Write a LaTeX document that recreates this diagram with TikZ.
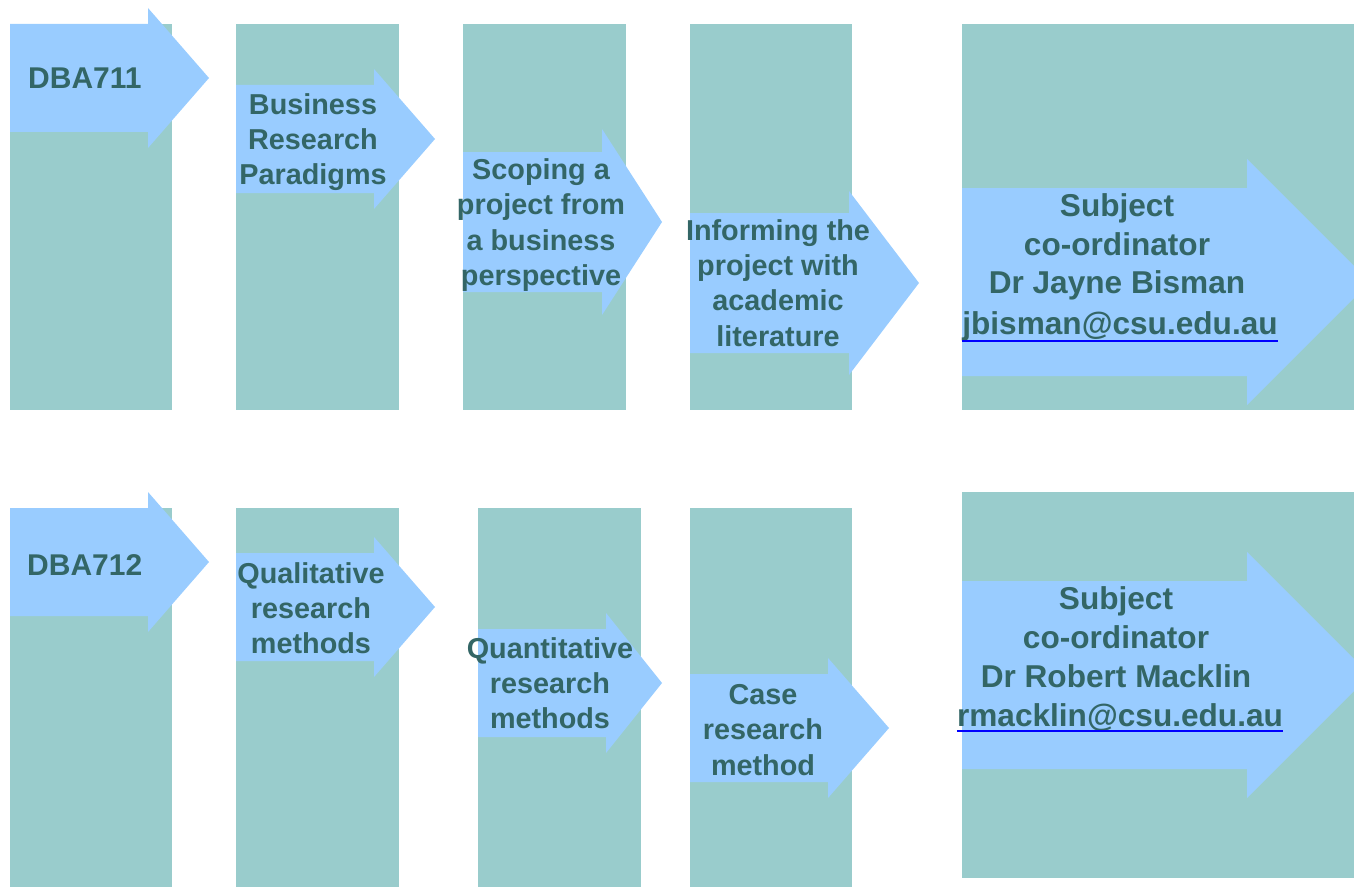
\documentclass[tikz,border=0pt]{standalone}
\usepackage{fontspec}
\setmainfont{Liberation Sans}
\definecolor{colfill}{HTML}{99CCCC}
\definecolor{arrowfill}{HTML}{99CCFF}
\definecolor{stagetext}{HTML}{336666}
\definecolor{linkblue}{HTML}{0000FF}
\tikzset{
    column/.style = {fill=colfill},
    stage arrow/.style = {fill=arrowfill},
}
\tikzset{
    stage/.style = {text=stagetext, align=center, inner sep=0pt, font=\bfseries\fontsize{28.8}{35.3}\selectfont},
    subject/.style = {stage, font=\bfseries\fontsize{30}{36}\selectfont},
    coordinator/.style = {stage, font=\bfseries\fontsize{31.6}{38.8}\selectfont},
    mail line/.style = {draw=linkblue, line width=2.5pt},
}
% x, centre y, half body, head x, half head, tip x
\newcommand{\stagearrow}[6]{%
    \path[stage arrow] (#1,{#2-#3}) -- (#4,{#2-#3}) -- (#4,{#2-#5}) -- (#6,#2)
        -- (#4,{#2+#5}) -- (#4,{#2+#3}) -- (#1,{#2+#3}) -- cycle;}

\begin{document}
\begin{tikzpicture}[x=1pt, y=-1pt]
    \path[use as bounding box] (0,0) rectangle (1354,888);
    \clip (0,0) rectangle (1354,888);

    \path[column] (10,24) rectangle (172,410);
    \path[column] (236,24) rectangle (399,410);
    \path[column] (463,24) rectangle (626,410);
    \path[column] (690,24) rectangle (852,410);
    \path[column] (962,24) rectangle (1354,410);

    \stagearrow{10}{78}{54}{148}{70}{209}
    \stagearrow{236}{139}{54}{374}{70}{435}
    \stagearrow{463}{222}{70}{602}{93}{662}
    \stagearrow{690}{283}{70}{849}{92}{919}
    \stagearrow{962}{282}{94}{1247}{123}{1370}

    \node[subject, anchor=base west] (dba711) at (28,89) {DBA711};
    \node[stage] (paradigms) at (313,142) {Business\\Research\\Paradigms};
    \node[stage] (scoping) at (541,225) {Scoping a\\project from\\a business\\perspective};
    \node[stage] (informing) at (778,283) {Informing the\\project with\\academic\\literature};
    \node[coordinator] (bisman) at (1117,247) {Subject\\co-ordinator\\Dr Jayne Bisman};
    \node[coordinator, anchor=base] (bismanmail) at (1120,334) {jbisman@csu.edu.au};
    \draw[mail line] (bismanmail.south west) -- (bismanmail.south east);

    \path[column] (10,508) rectangle (172,887);
    \path[column] (236,508) rectangle (399,887);
    \path[column] (478,508) rectangle (641,887);
    \path[column] (690,508) rectangle (852,887);
    \path[column] (962,492) rectangle (1354,878);

    \stagearrow{10}{562}{54}{148}{70}{209}
    \stagearrow{236}{607}{54}{374}{70}{435}
    \stagearrow{478}{683}{54}{606}{70}{662}
    \stagearrow{690}{728}{54}{828}{70}{889}
    \stagearrow{962}{675}{94}{1247}{123}{1370}

    \node[subject, anchor=base west] (dba712) at (27,575) {DBA712};
    \node[stage] (qualitative) at (311,608) {Qualitative\\research\\methods};
    \node[stage] (quantitative) at (550,683) {Quantitative\\research\\methods};
    \node[stage] (caseres) at (763,730) {Case\\research\\method};
    \node[coordinator] (macklin) at (1116,637) {Subject\\co-ordinator\\Dr Robert Macklin};
    \node[coordinator, anchor=base] (macklinmail) at (1120,726) {rmacklin@csu.edu.au};
    \draw[mail line] (macklinmail.south west) -- (macklinmail.south east);
\end{tikzpicture}
\end{document}
